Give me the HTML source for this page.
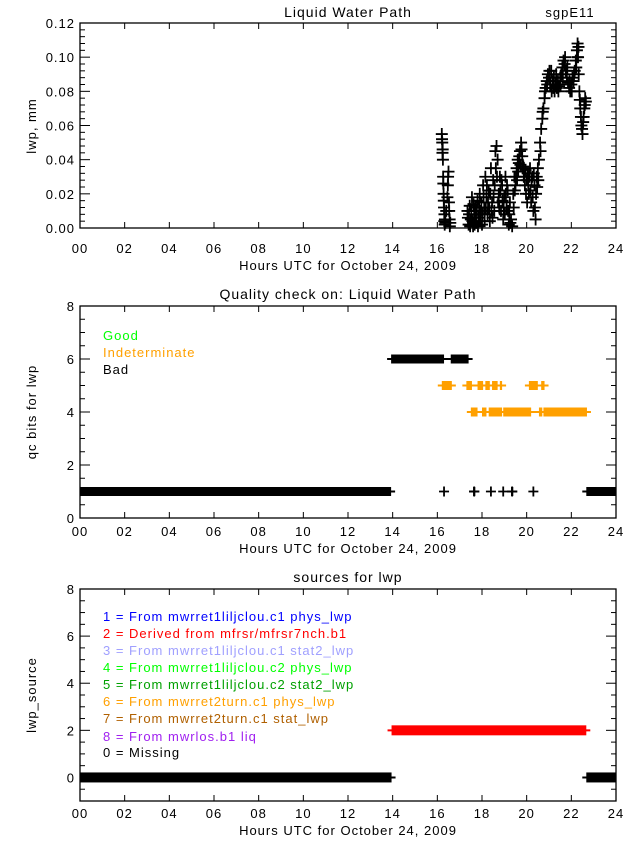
<!DOCTYPE html>
<html><head><meta charset="utf-8">
<style>
body{margin:0;background:#fff;}
svg{display:block;font-family:"Liberation Sans",sans-serif;}
svg text{letter-spacing:1px;}
</style></head>
<body>
<svg id="c" width="640" height="850" viewBox="0 0 640 850" xmlns="http://www.w3.org/2000/svg">
<rect width="640" height="850" fill="#fff"/>
<text x="348" y="17" font-size="14" text-anchor="middle">Liquid Water Path</text>
<text x="570" y="17" font-size="13" text-anchor="middle">sgpE11</text>
<text x="348" y="299" font-size="14" text-anchor="middle">Quality check on: Liquid Water Path</text>
<text x="348" y="582" font-size="14" text-anchor="middle">sources for lwp</text>
<text transform="translate(36,126) rotate(-90)" font-size="13" text-anchor="middle">lwp, mm</text>
<text transform="translate(36,412) rotate(-90)" font-size="13" text-anchor="middle">qc bits for lwp</text>
<text transform="translate(36,695) rotate(-90)" font-size="13" text-anchor="middle">lwp_source</text>
<g font-size="13">
<text x="103" y="340" fill="#00ff00">Good</text>
<text x="103" y="357" fill="#ffa000">Indeterminate</text>
<text x="103" y="374" fill="#000">Bad</text>
</g>
<g font-size="13" xml:space="preserve">
<text x="103" y="621" fill="#0000ff">1 = From mwrret1liljclou.c1 phys_lwp</text>
<text x="103" y="638" fill="#ff0000">2 = Derived from mfrsr/mfrsr7nch.b1</text>
<text x="103" y="655" fill="#a0a0ff">3 = From mwrret1liljclou.c1 stat2_lwp</text>
<text x="103" y="672" fill="#00ff00">4 = From mwrret1liljclou.c2 phys_lwp</text>
<text x="103" y="689" fill="#00a000">5 = From mwrret1liljclou.c2 stat2_lwp</text>
<text x="103" y="706" fill="#ffa000">6 = From mwrret2turn.c1 phys_lwp</text>
<text x="103" y="723" fill="#b06000">7 = From mwrret2turn.c1 stat_lwp</text>
<text x="103" y="741" fill="#a020f0">8 = From mwrlos.b1 liq</text>
<text x="103" y="757" fill="#000">0 = Missing</text>
</g>
</svg>
<script>
const xTicks=["00","02","04","06","08","10","12","14","16","18","20","22","24"];
const lwpTimes=[16.20,16.22,16.24,16.25,16.27,16.28,16.30,16.32,16.34,16.36,16.40,16.45,16.48,16.50,16.52,16.55,16.58,
17.35,17.40,17.45,17.50,17.55,17.60,17.65,17.70,17.75,17.80,17.85,17.90,17.95,18.00,18.05,18.10,18.15,18.20,18.25,18.30,18.35,18.40,18.45,18.50,18.55,18.60,18.65,18.70,18.75,18.80,18.85,18.90,18.95,19.00,19.05,19.10,19.15,19.20,19.25,19.30,19.35,19.40,19.45,19.50,19.55,19.60,19.65,19.70,19.75,19.80,19.85,19.90,19.95,20.00,20.05,20.10,20.15,20.20,20.25,20.30,20.35,20.40,20.45,20.50,20.55,20.60,20.65,20.70,20.75,20.80,20.85,20.90,20.95,21.00,21.05,21.10,21.15,21.20,21.25,21.30,21.35,21.40,21.45,21.50,21.55,21.60,21.65,21.70,21.75,21.80,21.85,21.90,21.95,22.00,22.05,22.10,22.15,22.20,22.25,22.28,22.30,22.33,22.36,22.40,22.45,22.50,22.55,22.60,22.65,
16.21,16.23,16.26,16.29,16.31,16.33,16.47,16.53,16.56,
17.37,17.42,17.47,17.52,17.57,17.62,17.67,17.72,17.77,17.82,17.87,17.92,17.97,18.02,18.07,18.12,18.17,18.22,18.27,18.32,18.37,18.42,18.47,18.52,18.57,18.62,18.67,18.72,18.77,18.82,18.87,18.92,18.97,19.02,19.07,19.12,19.17,19.22,19.27,19.42,19.47,19.52,19.57,19.62,19.67,19.72,19.77,19.82,19.87,19.92,19.97,20.02,20.07,20.12,20.17,20.22,20.27,20.32,20.37,20.42,20.47,20.52,20.62,20.72,20.82,20.92,21.02,21.12,21.22,21.32,21.42,21.52,21.62,21.72,21.82,21.92,22.02,22.12,22.22,22.27,22.32,22.38,22.43,22.48,22.53,22.58,22.62];
const lwpValues=[0.055,0.050,0.046,0.040,0.026,0.020,0.012,0.008,0.005,0.003,0.010,0.018,0.030,0.033,0.015,0.005,0.003,
0.010,0.002,0.013,0.005,0.018,0.001,0.008,0.012,0.003,0.016,0.006,0.020,0.010,0.002,0.025,0.012,0.030,0.018,0.008,0.022,0.004,0.035,0.015,0.028,0.010,0.045,0.048,0.040,0.020,0.030,0.010,0.025,0.005,0.018,0.030,0.012,0.022,0.002,0.015,0.005,0.001,0.020,0.030,0.025,0.035,0.040,0.038,0.045,0.050,0.042,0.036,0.030,0.034,0.028,0.032,0.020,0.035,0.015,0.030,0.010,0.025,0.005,0.030,0.035,0.040,0.050,0.058,0.064,0.070,0.076,0.082,0.086,0.090,0.088,0.084,0.092,0.086,0.082,0.080,0.084,0.082,0.086,0.083,0.088,0.090,0.094,0.098,0.096,0.092,0.088,0.085,0.082,0.080,0.084,0.088,0.086,0.092,0.098,0.104,0.108,0.100,0.090,0.080,0.070,0.060,0.055,0.065,0.072,0.074,
0.052,0.044,0.030,0.016,0.004,0.002,0.025,0.010,0.001,
0.006,0.008,0.001,0.010,0.004,0.014,0.002,0.006,0.010,0.001,0.012,0.004,0.015,0.008,0.018,0.004,0.012,0.025,0.015,0.012,0.020,0.010,0.006,0.018,0.025,0.035,0.030,0.015,0.012,0.022,0.028,0.016,0.012,0.008,0.020,0.025,0.010,0.008,0.003,0.012,0.022,0.030,0.028,0.033,0.042,0.037,0.046,0.035,0.030,0.025,0.020,0.015,0.025,0.030,0.022,0.028,0.018,0.032,0.012,0.020,0.024,0.028,0.045,0.068,0.080,0.084,0.092,0.080,0.088,0.090,0.080,0.084,0.090,0.100,0.094,0.086,0.080,0.090,0.094,0.100,0.106,0.075,0.065,0.058,0.062,0.070,0.076];
const qcStart=[0,13.93,16.6,16.2,17.3,17.8,18.15,18.45,18.8,20.1,20.65,17.5,18.0,18.3,18.95,20.55,20.75,17.6,19.3,22.67];
const qcEnd=[13.93,16.3,17.4,16.65,17.55,18.05,18.35,18.7,18.9,20.5,20.8,17.8,18.2,18.9,20.2,20.7,22.7,17.7,19.4,24];
const qcValue=[1,6,6,5,5,5,5,5,5,5,5,4,4,4,4,4,4,1,1,1];
const qcColor=["#000","#000","#000","#ffa000","#ffa000","#ffa000","#ffa000","#ffa000","#ffa000","#ffa000","#ffa000","#ffa000","#ffa000","#ffa000","#ffa000","#ffa000","#ffa000","#000","#000","#000"];
const qcCrossTimes=[16.3,17.65,18.4,18.95,19.35,20.3];
const qcCrossValues=[1,1,1,1,1,1];
const srcStart=[0,13.95,22.67];
const srcEnd=[13.95,22.67,24];
const srcValue=[0,2,0];
const srcColor=["#000","#ff0000","#000"];

const svg=document.getElementById('c');
const NS="http://www.w3.org/2000/svg";
const X0=80,X1=616;
function xs(h){return X0+(X1-X0)*h/24;}
function mk(tag,attrs,parent){const e=document.createElementNS(NS,tag);for(const k in attrs)e.setAttribute(k,attrs[k]);(parent||svg).appendChild(e);return e;}

function panel(name,top,bot,ymin,ymax,major,minor,fmt,lblOff,titleOff){
  const ys=v=>bot-(bot-top)*(v-ymin)/(ymax-ymin);
  const g=mk('g',{});
  
  
  const box=mk('rect',{x:X0,y:top,width:X1-X0,height:bot-top,fill:'none',stroke:'#000','stroke-width':1.3},g);
  
  
  xTicks.forEach((t,i)=>{
    const x=xs(i*2);
    mk('line',{x1:x,x2:x,y1:bot,y2:bot-6,stroke:'#000'},g);
    mk('line',{x1:x,x2:x,y1:top,y2:top+6,stroke:'#000'},g);
    const tx=mk('text',{x:x,y:bot+lblOff,'font-size':13,'text-anchor':'middle'},g);
    tx.textContent=t;
    
    
  });
  const xt=mk('text',{x:348,y:bot+titleOff,'font-size':13,'text-anchor':'middle'},g);
  xt.textContent='Hours UTC for October 24, 2009';
  
  
  const n=Math.round((ymax-ymin)/minor);
  for(let i=0;i<=n;i++){
    const v=ymin+i*minor;const y=ys(v);
    const isMaj=Math.abs(v/major-Math.round(v/major))<1e-6;
    const L=isMaj?10:5;
    mk('line',{x1:X0,x2:X0+L,y1:y,y2:y,stroke:'#000'},g);
    mk('line',{x1:X1,x2:X1-L,y1:y,y2:y,stroke:'#000'},g);
    if(isMaj){
      const tl=mk('text',{x:X0-5,y:y+5,'font-size':13,'text-anchor':'end'},g);
      tl.textContent=fmt(v);
      
      
    }
  }
  return ys;
}
function cross(x,y,s,color,parent){
  return mk('path',{d:`M${x-s} ${y}H${x+s}M${x} ${y-s}V${y+s}`,stroke:color,'stroke-width':1.8,fill:'none'},parent);
}
function bars(ys,starts,ends,vals,cols,h,name){
  const g=mk('g',{});
  
  
  for(let i=0;i<starts.length;i++){
    const y=ys(vals[i]);const a=xs(starts[i]),b=xs(ends[i]);
    mk('line',{x1:Math.max(X0,a-4),x2:Math.min(X1,b+4),y1:y,y2:y,stroke:cols[i],'stroke-width':2},g);
    const r=mk('rect',{x:a,y:y-h/2,width:Math.max(b-a,1),height:h,fill:cols[i]},g);
    
    
  }
  return g;
}
const ys1=panel('lwp',23,228,0,0.12,0.02,0.004,v=>v.toFixed(2),25,42);
const gp=mk('g',{});


for(let i=0;i<lwpTimes.length;i++){
  const p=cross(xs(lwpTimes[i]),ys1(lwpValues[i]),6,'#000',gp);
  
  
}
const ys2=panel('qc',306,518,0,8,2,0.5,v=>String(v),18,35);
bars(ys2,qcStart,qcEnd,qcValue,qcColor,9,'qc-bars');
for(let i=0;i<qcCrossTimes.length;i++){
  const p=cross(xs(qcCrossTimes[i]),ys2(qcCrossValues[i]),5,'#000');
  
  
}
const ys3=panel('source',589,801,-1,8,2,0.5,v=>String(v),17,34);
bars(ys3,srcStart,srcEnd,srcValue,srcColor,10,'source-bars');
</script>
</body></html>
